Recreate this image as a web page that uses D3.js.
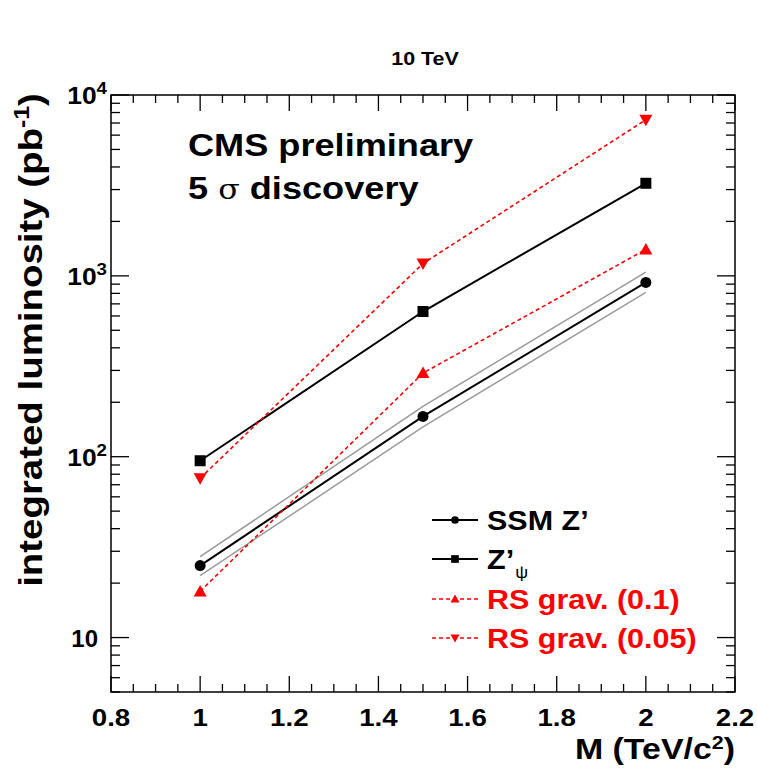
<!DOCTYPE html>
<html><head><meta charset="utf-8">
<script src="https://cdn.jsdelivr.net/npm/d3@7"></script>
<style>body{margin:0;background:#fff}svg{display:block}text{font-family:"Liberation Sans",Arial,sans-serif;font-weight:bold}</style>
</head><body><svg id="c" width="757" height="768"></svg>
<script>
const masses = [1, 1.5, 2];
const ssmZ = [25, 167, 920];
const ssmUpper = [28, 190, 1050];
const ssmLower = [22, 146, 810];
const zPsi = [95, 635, 3250];
const rs01 = [18, 290, 1400];
const rs005 = [76, 1170, 7300];
const xTicks = [0.8, 1, 1.2, 1.4, 1.6, 1.8, 2, 2.2];
const yTickLabels = [{v:10, b:"10", s:""}, {v:100, b:"10", s:"2"}, {v:1000, b:"10", s:"3"}, {v:10000, b:"10", s:"4"}];

const svg = d3.select("#c");
const L = 111, R = 735, T = 95, B = 692;
const SX = 1.13;
const x = d3.scaleLinear().domain([0.8, 2.2]).range([L, R]);
const y = d3.scaleLog().domain([5, 10000]).range([B, T]);

function txt(px, py, size, anchor, rot, sx) {
  const g = svg.append("g").attr("transform", `translate(${px},${py}) rotate(${rot || 0}) scale(${sx || SX},1)`);
  return g.append("text").attr("x", 0).attr("y", 0).attr("font-size", size).attr("text-anchor", anchor || "start");
}

// frame
svg.append("rect").attr("x", L).attr("y", T).attr("width", R - L).attr("height", B - T)
  .attr("fill", "none").attr("stroke", "#000").attr("stroke-width", 1.5);

// x ticks
const xMinor = d3.range(0.8, 2.2001, 0.05).map(v => +v.toFixed(2));
xMinor.forEach(v => {
  const major = Math.abs(Math.round(v * 5) - v * 5) < 1e-6;
  const len = major ? 16 : 8;
  svg.append("line").attr("x1", x(v)).attr("x2", x(v)).attr("y1", B).attr("y2", B - len).attr("stroke", "#000").attr("stroke-width", 1.3);
  svg.append("line").attr("x1", x(v)).attr("x2", x(v)).attr("y1", T).attr("y2", T + len).attr("stroke", "#000").attr("stroke-width", 1.3);
});
xTicks.forEach(v => {
  txt(x(v), 726, 24.5, "middle").text(d3.format("~g")(v));
});

// y ticks
const yMinor = [];
[1, 10, 100, 1000].forEach(d => { for (let k = 1; k <= 9; k++) { const v = d * k; if (v >= 5 && v <= 10000) yMinor.push(v); } });
yMinor.push(10000);
yMinor.forEach(v => {
  const major = Math.abs(Math.log10(v) - Math.round(Math.log10(v))) < 1e-9;
  const len = major ? 18 : 9;
  svg.append("line").attr("x1", L).attr("x2", L + len).attr("y1", y(v)).attr("y2", y(v)).attr("stroke", "#000").attr("stroke-width", 1.3);
  svg.append("line").attr("x1", R).attr("x2", R - len).attr("y1", y(v)).attr("y2", y(v)).attr("stroke", "#000").attr("stroke-width", 1.3);
});
yTickLabels.forEach(t => {
  const tx = txt(t.s ? 107 : 98, y(t.v) + 9, 24, "end", 0, t.s ? 1.1 : 1.0);
  tx.append("tspan").text(t.b);
  if (t.s) tx.append("tspan").attr("dy", -10).attr("font-size", 17).text(t.s);
});

// axis titles
const yl = txt(42, 340, 34, "middle", -90);
yl.append("tspan").text("integrated luminosity (pb");
yl.append("tspan").attr("dy", -13).attr("font-size", 22).text("-1");
yl.append("tspan").attr("dy", 13).text(")");
const xl = txt(735, 759, 30, "end");
xl.append("tspan").text("M (TeV/c");
xl.append("tspan").attr("dy", -10).attr("font-size", 19).text("2");
xl.append("tspan").attr("dy", 10).text(")");

txt(425, 65, 19, "middle").text("10 TeV");
txt(188, 156, 32, "start").text("CMS preliminary");
const s5 = txt(188, 199, 32, "start");
s5.append("tspan").text("5 ");
s5.append("tspan").attr("font-family", "DejaVu Serif").attr("font-weight", "normal").attr("font-size", 28).text("σ");
s5.append("tspan").text(" discovery");

const line = d3.line().x((d, i) => x(masses[i])).y(d => y(d));

// gray band
[ssmUpper, ssmLower].forEach(arr => {
  svg.append("path").attr("d", line(arr)).attr("fill", "none").attr("stroke", "#9a9a9a").attr("stroke-width", 1.5);
});

const series = [
  {name: "SSM Z’", data: ssmZ, color: "#000", dash: null, marker: "circle"},
  {name: "Z’", sub: "ψ", data: zPsi, color: "#000", dash: null, marker: "square"},
  {name: "RS grav. (0.1)", data: rs01, color: "#ff0000", dash: "4,3", marker: "up"},
  {name: "RS grav. (0.05)", data: rs005, color: "#ff0000", dash: "4,3", marker: "down"}
];

function marker(g, type, cx, cy, color, s) {
  if (type === "circle") g.append("circle").attr("cx", cx).attr("cy", cy).attr("r", 5.5 * s).attr("fill", color);
  else if (type === "square") g.append("rect").attr("x", cx - 5.5 * s).attr("y", cy - 5.5 * s).attr("width", 11 * s).attr("height", 11 * s).attr("fill", color);
  else if (type === "up") g.append("path").attr("d", `M${cx},${cy - 6.5 * s}L${cx + 6.5 * s},${cy + 5 * s}L${cx - 6.5 * s},${cy + 5 * s}Z`).attr("fill", color);
  else g.append("path").attr("d", `M${cx},${cy + 6.5 * s}L${cx + 6.5 * s},${cy - 5 * s}L${cx - 6.5 * s},${cy - 5 * s}Z`).attr("fill", color);
}

series.forEach(s => {
  const p = svg.append("path").attr("d", line(s.data)).attr("fill", "none").attr("stroke", s.color).attr("stroke-width", s.dash ? 1.6 : 2);
  if (s.dash) p.attr("stroke-dasharray", s.dash);
  s.data.forEach((v, i) => marker(svg, s.marker, x(masses[i]), y(v), s.color, 1));
});

// legend
const legY = [520, 559, 599, 638];
series.forEach((s, i) => {
  const ly = legY[i];
  const p = svg.append("line").attr("x1", 432).attr("x2", 478).attr("y1", ly).attr("y2", ly).attr("stroke", s.color).attr("stroke-width", s.dash ? 1.6 : 2);
  if (s.dash) p.attr("stroke-dasharray", s.dash);
  marker(svg, s.marker, 455, ly, s.color, 0.7);
  const t = txt(487, ly + 10, 27, "start").attr("fill", s.color === "#000" ? "#000" : "#ff0000");
  t.append("tspan").text(s.name);
  if (s.sub) t.append("tspan").attr("dy", 9).attr("dx", 1).attr("font-size", 16).attr("font-weight", "normal").text(s.sub);
});
</script></body></html>
